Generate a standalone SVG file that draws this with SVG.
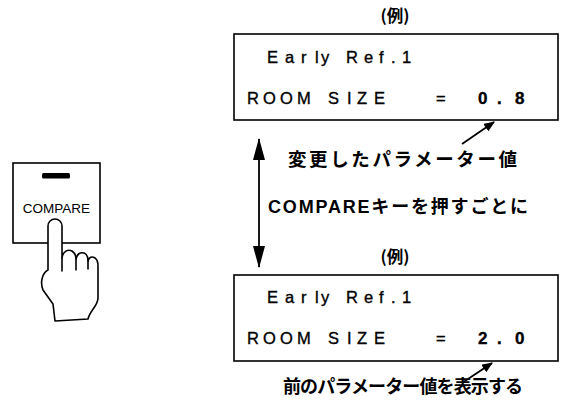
<svg xmlns="http://www.w3.org/2000/svg" width="563" height="408" viewBox="0 0 563 408">
  <style>
    .box { fill: #fff; stroke: #000; stroke-width: 1.6; }
    .lcd { font-family: "Liberation Sans", Arial, sans-serif; font-size: 16.5px; fill: #000; stroke: #000; stroke-width: 0.35; }
    .dig { font-weight: bold; font-size: 17px; }
    .jp { font-family: "Noto Sans CJK JP", "Noto Sans", sans-serif; font-weight: bold; fill: #000; }
    .lat { font-family: "Liberation Sans", Arial, sans-serif; font-weight: bold; }
    .line { stroke: #000; stroke-width: 1.8; fill: none; }
  </style>
  <defs>
    <marker id="head" viewBox="0 0 10 10" refX="9" refY="5" markerWidth="11" markerHeight="9" markerUnits="userSpaceOnUse" orient="auto-start-reverse" preserveAspectRatio="none">
      <path d="M0,0 L10,5 L0,10 z" fill="#000"/>
    </marker>
    <marker id="bighead" viewBox="0 0 10 10" refX="9.5" refY="5" markerWidth="22" markerHeight="12" markerUnits="userSpaceOnUse" orient="auto-start-reverse" preserveAspectRatio="none">
      <path d="M0,0 L10,5 L0,10 z" fill="#000"/>
    </marker>
  </defs>

  <!-- COMPARE key with pressing hand -->
  <g id="compare-key">
    <rect class="box" x="13" y="163" width="87" height="80"/>
    <rect x="42" y="173" width="28" height="5.5" rx="1.5" fill="#000"/>
    <text x="56.5" y="213" text-anchor="middle" font-family="Liberation Sans, Arial, sans-serif" font-size="13.5" fill="#000">COMPARE</text>
  </g>
  <g id="hand" fill="#fff" stroke="#000" stroke-width="1.6" stroke-linejoin="round" stroke-linecap="round">
    <path d="M48,270 L48,226 A7,7 0 0 1 62,226 L62,258 C63,251 68,249 72,251 C75,253 76,256 76,259 C77,254 80,252 84,253 C87,254 88,257 88,261 C89,257 92,256 95,258 C98,260 98,263 98,266 L98,298 C98,306 90,310 88,319 L55,321 L53,304 L43,290 C40,283 42,273 48,270 Z"/>
    <path d="M62,258 L62,271 M76,259 L76,270 M88,261 L88,269" fill="none"/>
  </g>

  <!-- display showing the edited value -->
  <g id="display-edited">
    <text class="jp" x="395" y="22" text-anchor="middle" font-size="16.5">(例)</text>
    <rect class="box" x="234" y="34" width="324" height="86"/>
    <text class="lcd" y="63"><tspan x="267">E</tspan><tspan x="285">a</tspan><tspan x="301">r</tspan><tspan x="315">l</tspan><tspan x="321">y</tspan><tspan x="346">R</tspan><tspan x="364">e</tspan><tspan x="379">f</tspan><tspan x="391">.</tspan><tspan x="402">1</tspan></text>
    <text class="lcd" y="104"><tspan x="247">R</tspan><tspan x="263">O</tspan><tspan x="280">O</tspan><tspan x="297">M</tspan><tspan x="328">S</tspan><tspan x="347">I</tspan><tspan x="357">Z</tspan><tspan x="374">E</tspan><tspan x="436">=</tspan><tspan class="dig" x="478">0</tspan><tspan class="dig" x="497">.</tspan><tspan class="dig" x="515">8</tspan></text>
  </g>

  <!-- display showing the previous value -->
  <g id="display-previous">
    <text class="jp" x="395" y="263" text-anchor="middle" font-size="16.5">(例)</text>
    <rect class="box" x="234" y="275" width="324" height="86"/>
    <text class="lcd" y="303"><tspan x="267">E</tspan><tspan x="285">a</tspan><tspan x="301">r</tspan><tspan x="315">l</tspan><tspan x="321">y</tspan><tspan x="346">R</tspan><tspan x="364">e</tspan><tspan x="379">f</tspan><tspan x="391">.</tspan><tspan x="402">1</tspan></text>
    <text class="lcd" y="344"><tspan x="247">R</tspan><tspan x="263">O</tspan><tspan x="280">O</tspan><tspan x="297">M</tspan><tspan x="328">S</tspan><tspan x="347">I</tspan><tspan x="357">Z</tspan><tspan x="374">E</tspan><tspan x="436">=</tspan><tspan class="dig" x="478">2</tspan><tspan class="dig" x="497">.</tspan><tspan class="dig" x="515">0</tspan></text>
  </g>

  <!-- captions -->
  <g id="captions">
    <text class="jp" x="288" y="166" font-size="18.5" textLength="229" lengthAdjust="spacing">変更したパラメーター値</text>
    <text class="jp" x="268" y="213" font-size="18" textLength="260" lengthAdjust="spacing"><tspan class="lat">COMPARE</tspan>キーを押すごとに</text>
    <text class="jp" x="283" y="393" font-size="18" textLength="240" lengthAdjust="spacing">前のパラメーター値を表示する</text>
  </g>

  <!-- connectors -->
  <g id="connectors">
    <line class="line" x1="259" y1="139" x2="259" y2="267" marker-start="url(#bighead)" marker-end="url(#bighead)"/>
    <line class="line" x1="462" y1="144" x2="494" y2="122" marker-end="url(#head)"/>
    <line class="line" x1="462" y1="383" x2="492" y2="363" marker-end="url(#head)"/>
  </g>
</svg>
